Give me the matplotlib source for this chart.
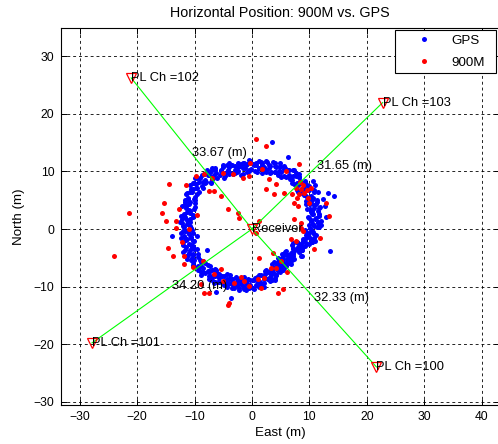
import numpy as np
import matplotlib
matplotlib.use("Agg")
import matplotlib.pyplot as plt

plt.rcParams['font.family'] = ['Liberation Sans', 'DejaVu Sans']

# GPS fixes around the receiver, as bearing (deg, CCW from east) and range (m)
gps_bearing_deg = [
    0.6, 2.1, 3.4, 4.9, 6.3, 7.8, 9.0, 10.7, 12.1, 13.6,
    15.2, 16.7, 18.1, 19.4, 21.0, 22.3, 23.9, 25.2, 26.8, 28.2,
    30.6, 32.1, 33.4, 34.9, 36.3, 37.8, 39.0, 40.7, 42.1, 43.6,
    45.2, 46.7, 48.1, 49.4, 51.0, 52.3, 53.9, 55.2, 56.8, 58.2,
    60.6, 62.1, 63.4, 64.9, 66.3, 67.8, 69.0, 70.7, 72.1, 73.6,
    75.2, 76.7, 78.1, 79.4, 81.0, 82.3, 83.9, 85.2, 86.8, 88.2,
    90.6, 92.1, 93.4, 94.9, 96.3, 97.8, 99.0, 100.7, 102.1, 103.6,
    105.2, 106.7, 108.1, 109.4, 111.0, 112.3, 113.9, 115.2, 116.8, 118.2,
    120.6, 122.1, 123.4, 124.9, 126.3, 127.8, 129.0, 130.7, 132.1, 133.6,
    135.2, 136.7, 138.1, 139.4, 141.0, 142.3, 143.9, 145.2, 146.8, 148.2,
    150.6, 152.1, 153.4, 154.9, 156.3, 157.8, 159.0, 160.7, 162.1, 163.6,
    165.2, 166.7, 168.1, 169.4, 171.0, 172.3, 173.9, 175.2, 176.8, 178.2,
    180.6, 182.1, 183.4, 184.9, 186.3, 187.8, 189.0, 190.7, 192.1, 193.6,
    195.2, 196.7, 198.1, 199.4, 201.0, 202.3, 203.9, 205.2, 206.8, 208.2,
    210.6, 212.1, 213.4, 214.9, 216.3, 217.8, 219.0, 220.7, 222.1, 223.6,
    225.2, 226.7, 228.1, 229.4, 231.0, 232.3, 233.9, 235.2, 236.8, 238.2,
    240.6, 242.1, 243.4, 244.9, 246.3, 247.8, 249.0, 250.7, 252.1, 253.6,
    255.2, 256.7, 258.1, 259.4, 261.0, 262.3, 263.9, 265.2, 266.8, 268.2,
    270.6, 272.1, 273.4, 274.9, 276.3, 277.8, 279.0, 280.7, 282.1, 283.6,
    285.2, 286.7, 288.1, 289.4, 291.0, 292.3, 293.9, 295.2, 296.8, 298.2,
    300.6, 302.1, 303.4, 304.9, 306.3, 307.8, 309.0, 310.7, 312.1, 313.6,
    315.2, 316.7, 318.1, 319.4, 321.0, 322.3, 323.9, 325.2, 326.8, 328.2,
    330.6, 332.1, 333.4, 334.9, 336.3, 337.8, 339.0, 340.7, 342.1, 343.6,
    345.2, 346.7, 348.1, 349.4, 351.0, 352.3, 353.9, 355.2, 356.8, 358.2,
    1.3, 2.8, 4.1, 5.5, 7.0, 8.4, 9.7, 11.4, 12.8, 14.3,
    15.9, 17.5, 18.8, 20.2, 21.7, 23.1, 24.5, 26.0, 27.5, 29.0,
    31.3, 32.8, 34.1, 35.5, 37.0, 38.4, 39.7, 41.4, 42.8, 44.3,
    45.9, 47.5, 48.8, 50.2, 51.7, 53.1, 54.5, 56.0, 57.5, 59.0,
    61.3, 62.8, 64.1, 65.5, 67.0, 68.4, 69.7, 71.4, 72.8, 74.3,
    75.9, 77.5, 78.8, 80.2, 81.7, 83.1, 84.5, 86.0, 87.5, 89.0,
    91.3, 92.8, 94.1, 95.5, 97.0, 98.4, 99.7, 101.4, 102.8, 104.3,
    105.9, 107.5, 108.8, 110.2, 111.7, 113.1, 114.5, 116.0, 117.5, 119.0,
    121.3, 122.8, 124.1, 125.5, 127.0, 128.4, 129.7, 131.4, 132.8, 134.3,
    135.9, 137.5, 138.8, 140.2, 141.7, 143.1, 144.5, 146.0, 147.5, 149.0,
    151.3, 152.8, 154.1, 155.5, 157.0, 158.4, 159.7, 161.4, 162.8, 164.3,
    165.9, 167.5, 168.8, 170.2, 171.7, 173.1, 174.5, 176.0, 177.5, 179.0,
    181.3, 182.8, 184.1, 185.5, 187.0, 188.4, 189.7, 191.4, 192.8, 194.3,
    195.9, 197.5, 198.8, 200.2, 201.7, 203.1, 204.5, 206.0, 207.5, 209.0,
    211.3, 212.8, 214.1, 215.5, 217.0, 218.4, 219.7, 221.4, 222.8, 224.3,
    225.9, 227.5, 228.8, 230.2, 231.7, 233.1, 234.5, 236.0, 237.5, 239.0,
    241.3, 242.8, 244.1, 245.5, 247.0, 248.4, 249.7, 251.4, 252.8, 254.3,
    255.9, 257.5, 258.8, 260.2, 261.7, 263.1, 264.5, 266.0, 267.5, 269.0,
    271.3, 272.8, 274.1, 275.5, 277.0, 278.4, 279.7, 281.4, 282.8, 284.3,
    285.9, 287.5, 288.8, 290.2, 291.7, 293.1, 294.5, 296.0, 297.5, 299.0,
    301.3, 302.8, 304.1, 305.5, 307.0, 308.4, 309.7, 311.4, 312.8, 314.3,
    315.9, 317.5, 318.8, 320.2, 321.7, 323.1, 324.5, 326.0, 327.5, 329.0,
    331.3, 332.8, 334.1, 335.5, 337.0, 338.4, 339.7, 341.4, 342.8, 344.3,
    345.9, 347.5, 348.8, 350.2, 351.7, 353.1, 354.5, 356.0, 357.5, 359.0,
]
gps_range_m = [
    10.1, 11.4, 12.0, 10.7, 11.6, 10.4, 11.2, 11.9, 9.9, 11.0,
    11.85, 10.95, 12.55, 10.65, 11.65, 12.15, 11.15, 10.35, 11.95, 11.45,
    11.05, 12.65, 10.75, 11.95, 11.45, 12.25, 10.35, 11.85, 12.45, 11.15,
    11.8, 10.7, 12.2, 12.6, 11.0, 11.6, 11.3, 12.4, 10.9, 12.0,
    10.45, 11.75, 12.35, 11.05, 11.95, 10.75, 11.55, 12.25, 10.25, 11.35,
    11.45, 10.55, 12.15, 10.25, 11.25, 11.75, 10.75, 9.95, 11.55, 11.05,
    10.35, 11.95, 10.05, 11.25, 10.75, 11.55, 9.65, 11.15, 11.75, 10.45,
    11.3, 10.2, 11.7, 12.1, 10.5, 11.1, 10.8, 11.9, 10.4, 11.5,
    10.9, 12.2, 12.8, 11.5, 12.4, 11.2, 12.0, 12.7, 10.7, 11.8,
    12.7, 11.8, 13.4, 11.5, 12.5, 13.0, 12.0, 11.2, 12.8, 12.3,
    11.4, 13.0, 11.1, 12.3, 11.8, 12.6, 10.7, 12.2, 12.8, 11.5,
    11.7, 10.6, 12.1, 12.5, 10.9, 11.5, 11.2, 12.3, 10.8, 11.9,
    10.45, 11.75, 12.35, 11.05, 11.95, 10.75, 11.55, 12.25, 10.25, 11.35,
    11.9, 11.0, 12.6, 10.7, 11.7, 12.2, 11.2, 10.4, 12.0, 11.5,
    10.55, 12.15, 10.25, 11.45, 10.95, 11.75, 9.85, 11.35, 11.95, 10.65,
    10.6, 9.5, 11.0, 11.4, 9.8, 10.4, 10.1, 11.2, 9.7, 10.8,
    9.0, 10.3, 10.9, 9.6, 10.5, 9.3, 10.1, 10.8, 8.8, 9.9,
    10.15, 9.25, 10.85, 8.95, 9.95, 10.45, 9.45, 8.65, 10.25, 9.75,
    8.85, 10.45, 8.55, 9.75, 9.25, 10.05, 8.15, 9.65, 10.25, 8.95,
    8.8, 7.7, 9.2, 9.6, 8.0, 8.6, 8.3, 9.4, 7.9, 9.0,
    7.0, 8.3, 8.9, 7.6, 8.5, 7.3, 8.1, 8.8, 6.8, 7.9,
    8.4, 7.5, 9.1, 7.2, 8.2, 8.7, 7.7, 6.9, 8.5, 8.0,
    8.25, 9.85, 7.95, 9.15, 8.65, 9.45, 7.55, 9.05, 9.65, 8.35,
    10.3, 9.2, 10.7, 11.1, 9.5, 10.1, 9.8, 10.9, 9.4, 10.5,
    11.7, 10.8, 10.0, 11.5, 12.1, 10.4, 11.3, 10.1, 11.9, 10.7,
    10.65, 12.25, 11.45, 10.25, 11.95, 11.05, 12.35, 11.55, 10.55, 11.75,
    12.55, 11.05, 11.95, 10.65, 12.35, 11.45, 12.15, 10.35, 11.75, 10.95,
    11.2, 12.2, 10.6, 11.9, 12.5, 10.9, 12.7, 11.4, 12.1, 10.7,
    12.05, 11.15, 10.35, 11.85, 12.45, 10.75, 11.65, 10.45, 12.25, 11.05,
    10.25, 11.85, 11.05, 9.85, 11.55, 10.65, 11.95, 11.15, 10.15, 11.35,
    11.85, 10.35, 11.25, 9.95, 11.65, 10.75, 11.45, 9.65, 11.05, 10.25,
    10.7, 11.7, 10.1, 11.4, 12.0, 10.4, 12.2, 10.9, 11.6, 10.2,
    12.5, 11.6, 10.8, 12.3, 12.9, 11.2, 12.1, 10.9, 12.7, 11.5,
    11.5, 13.1, 12.3, 11.1, 12.8, 11.9, 13.2, 12.4, 11.4, 12.6,
    12.9, 11.4, 12.3, 11.0, 12.7, 11.8, 12.5, 10.7, 12.1, 11.3,
    11.1, 12.1, 10.5, 11.8, 12.4, 10.8, 12.6, 11.3, 12.0, 10.6,
    12.05, 11.15, 10.35, 11.85, 12.45, 10.75, 11.65, 10.45, 12.25, 11.05,
    10.7, 12.3, 11.5, 10.3, 12.0, 11.1, 12.4, 11.6, 10.6, 11.8,
    12.05, 10.55, 11.45, 10.15, 11.85, 10.95, 11.65, 9.85, 11.25, 10.45,
    10.0, 11.0, 9.4, 10.7, 11.3, 9.7, 11.5, 10.2, 10.9, 9.5,
    10.6, 9.7, 8.9, 10.4, 11.0, 9.3, 10.2, 9.0, 10.8, 9.6,
    8.95, 10.55, 9.75, 8.55, 10.25, 9.35, 10.65, 9.85, 8.85, 10.05,
    10.35, 8.85, 9.75, 8.45, 10.15, 9.25, 9.95, 8.15, 9.55, 8.75,
    8.2, 9.2, 7.6, 8.9, 9.5, 7.9, 9.7, 8.4, 9.1, 7.7,
    8.6, 7.7, 6.9, 8.4, 9.0, 7.3, 8.2, 7.0, 8.8, 7.6,
    7.2, 8.8, 8.0, 6.8, 8.5, 7.6, 8.9, 8.1, 7.1, 8.3,
    9.75, 8.25, 9.15, 7.85, 9.55, 8.65, 9.35, 7.55, 8.95, 8.15,
    9.7, 10.7, 9.1, 10.4, 11.0, 9.4, 11.2, 9.9, 10.6, 9.2,
]
# GPS fixes off the main ring (east, north in m)
gps_extra_east = [3.5, 13.6, 14.3, 13.2, -3.7, -13.9, 12.9, -6.2,
                  11.5, 12.3, 11.0, 12.8, 10.6, -9.6, -7.8, 6.2]
gps_extra_north = [15.1, -3.8, 5.7, 6.3, -12.0, -1.2, 2.1, -11.0,
                   6.5, 5.2, 7.6, 4.0, 8.4, -1.3, -3.6, 12.6]

# 900M position fixes (east, north in m)
m900_east = [
    -21.5, -24.1, 0.7, 2.4, 8.2, -9.8, -8.4, -5.1, -3.3, -1.6,
    -0.5, -14.5, -6.6, -7.5, -5.4, -15.4, -15.6, -15.0, -12.8, -13.3,
    -4.2, -2.4, -2.3, -13.3, 3.0, 4.2, 2.4, 3.8, 5.6, 7.7,
    8.6, 8.2, 9.1, 9.8, 7.3, 8.0, 12.9, 7.3, 8.6, 1.2,
    -11.0, -14.7, -13.8, -11.9, -11.9, -8.6, -6.6, -5.4, -5.1, -8.4,
    -7.5, -4.2, -4.0, -3.1, -1.4, -0.5, -8.9, 0.7, 1.2, 3.7,
    5.1, 3.3, 4.2, 2.1, 1.0, 1.6, 4.5, 5.4, 6.8, 7.7,
    8.6, 8.9, 8.9, 9.5, 7.9, 10.3, 8.4, 9.9, 6.9, 13.4,
    11.8, -11.5, -10.2, -9.5, -12.2, 10.8, -2.0, 6.1, -6.9, 1.8,
    5.9, -0.4,
]
m900_north = [
    2.8, -4.7, 15.6, 14.4, 11.3, 9.2, 9.5, 9.7, 9.5, 8.8,
    9.2, 7.8, 6.6, 6.6, 5.7, 4.5, 2.8, 1.4, 3.5, 1.4,
    3.5, 2.8, 1.9, 0.2, 8.7, 7.8, 6.9, 6.1, 6.2, 7.1,
    6.9, 6.1, 6.2, 5.4, 4.5, 4.0, 4.5, 1.7, 1.0, 1.4,
    0.0, -3.3, -4.7, -4.7, -6.1, -5.5, -7.8, -6.9, -9.0, -11.1,
    -11.1, -13.3, -12.8, -9.4, -9.0, -9.9, -9.5, -0.7, -5.0, -4.2,
    -5.5, -6.8, -6.8, -8.5, -8.7, -10.2, -11.1, -10.4, -1.7, -2.1,
    0.2, -0.3, 7.6, 6.8, 5.4, 7.1, 8.2, 4.6, 6.0, 2.3,
    -1.6, 7.7, -6.6, 2.5, -2.2, -3.5, -8.3, -7.5, 8.9, 10.5,
    10.0, 11.4,
]

# pilot-channel transmitters: range (m) and bearing (deg) from the receiver
tower_names = ["PL Ch =100", "PL Ch =101", "PL Ch =102", "PL Ch =103"]
tower_range_m = [32.33, 34.20, 33.67, 31.65]
tower_bearing_deg = [-47.9, 215.4, 128.7, 44.0]

x_ticks = [-30, -20, -10, 0, 10, 20, 30, 40]
y_ticks = [-30, -20, -10, 0, 10, 20, 30]

W, H = 498, 444
fig = plt.figure(figsize=(W / 100, H / 100), dpi=100)
ax_l, ax_r, ax_t, ax_b = 60.5, 500.0, 28.0, 405.0
ax = fig.add_axes([ax_l / W, 1 - ax_b / H, (ax_r - ax_l) / W, (ax_b - ax_t) / H])

gb = np.radians(gps_bearing_deg)
gr = np.asarray(gps_range_m)
gps_e = np.concatenate([gr * np.cos(gb), gps_extra_east])
gps_n = np.concatenate([gr * np.sin(gb), gps_extra_north])

ax.plot(gps_e, gps_n, linestyle='none', marker='o', markersize=3.6,
        markeredgewidth=0, color='#0000ff', label='GPS', zorder=3)
ax.plot(m900_east, m900_north, linestyle='none', marker='o', markersize=3.6,
        markeredgewidth=0, color='#ff0000', label='900M', zorder=4)

tb = np.radians(tower_bearing_deg)
tr = np.asarray(tower_range_m)
tower_e = tr * np.cos(tb)
tower_n = tr * np.sin(tb)

for name, r, e, n in zip(tower_names, tr, tower_e, tower_n):
    ax.plot([0, e], [0, n], color='#00ff00', linewidth=0.8, zorder=5)
    ax.plot(e, n, marker='v', markersize=6.5, markerfacecolor='none',
            markeredgecolor='#ff0000', markeredgewidth=0.9, zorder=6)
    ax.text(e, n, name, fontsize=9.3, ha='left', va='center', zorder=7)
    ax.text(e / 2, n / 2, f"{r:.2f} (m)", fontsize=9.3, ha='left',
            va='center', zorder=7)

ax.plot(0, 0, marker='v', markersize=6.5, markerfacecolor='none',
        markeredgecolor='#ff0000', markeredgewidth=0.9, zorder=6)
ax.text(0, 0, "Receiver", fontsize=9.3, ha='left', va='center', zorder=7)

px_x = 5.74
px_y = 5.75
x0_px, y0_px = 252.0, 229.0
ax.set_xlim((ax_l - x0_px) / px_x, (ax_r - x0_px) / px_x)
ax.set_ylim((y0_px - ax_b) / px_y, (y0_px - ax_t) / px_y)
ax.set_xticks(x_ticks)
ax.set_yticks(y_ticks)
ax.grid(True, color='black', linewidth=0.6, linestyle=(0, (3.5, 3.5)))
ax.set_axisbelow(True)
ax.tick_params(direction='in', top=True, right=True, length=4, width=0.7,
               labelsize=8.7, pad=4.5, colors='black')
for s in ax.spines.values():
    s.set_linewidth(0.8)
    s.set_color('black')

ax.set_title("Horizontal Position: 900M vs. GPS", fontsize=10.3, pad=8)
ax.set_xlabel("East (m)", fontsize=9.6, labelpad=3)
ax.set_ylabel("North (m)", fontsize=9.6, labelpad=6)

lx0 = (395 - ax_l) / (ax_r - ax_l)
lw_ = 101 / (ax_r - ax_l)
ly0 = (ax_b - 78) / (ax_b - ax_t)
lh = 48 / (ax_b - ax_t)
leg = ax.legend(loc='upper right', bbox_to_anchor=(lx0, ly0, lw_, lh),
                mode='expand', borderaxespad=0, fontsize=9.6, frameon=True,
                fancybox=False, framealpha=1, edgecolor='black',
                borderpad=0.35, labelspacing=0.7, handlelength=3.7,
                handletextpad=0.2, numpoints=1)
leg.get_frame().set_linewidth(0.8)

fig.savefig("out.png", dpi=100)
